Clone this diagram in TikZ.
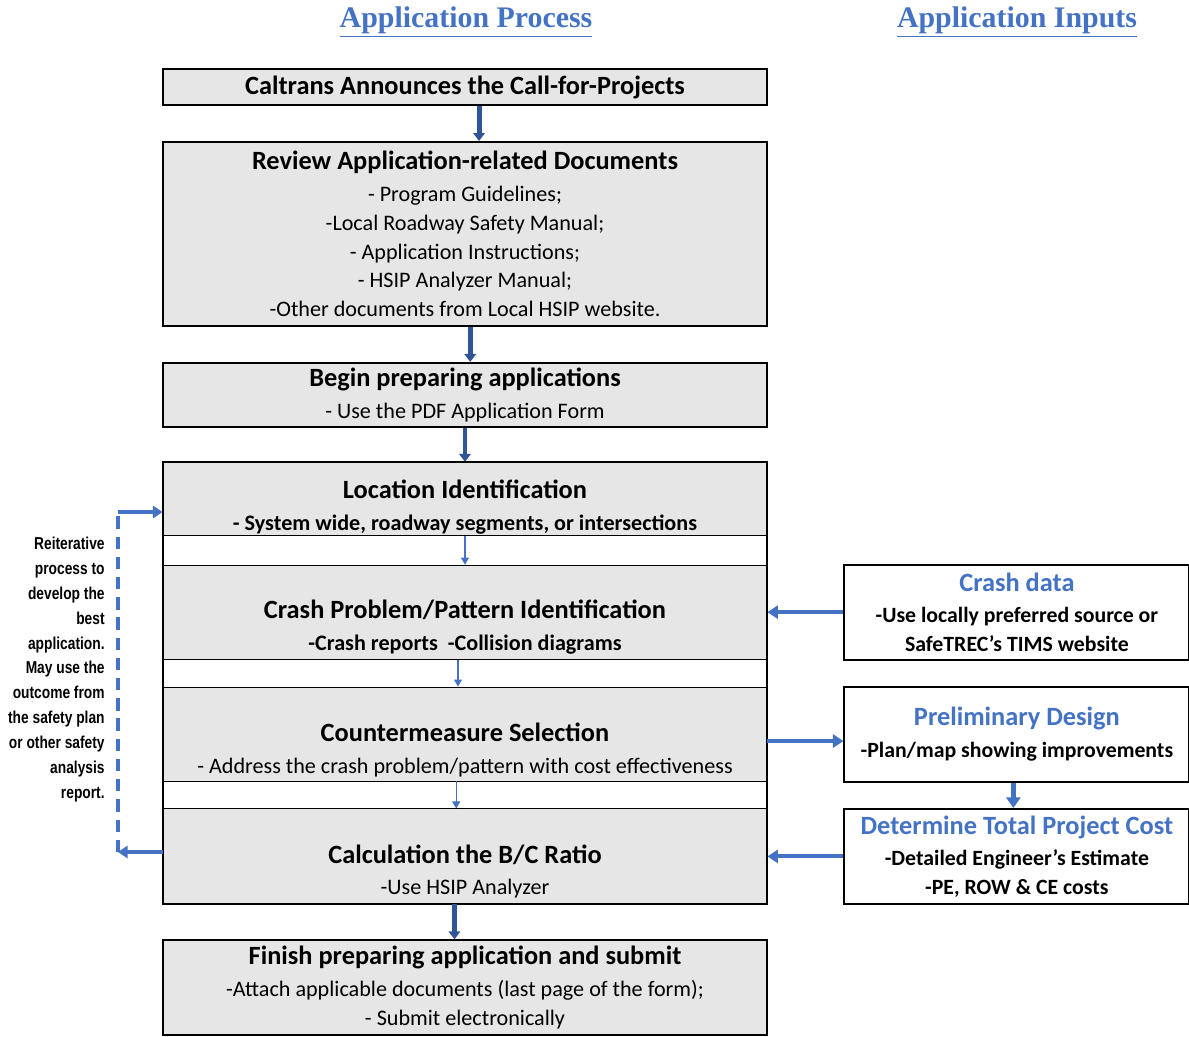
\documentclass[tikz,border=0pt]{standalone}
\usepackage{fontspec}
\setmainfont{Carlito}
\newfontfamily\headfont{Liberation Serif}
\newfontfamily\narrowfont[FakeStretch=0.8]{Liberation Sans}
\usepackage{xcolor}
\usetikzlibrary{arrows.meta}
\usetikzlibrary{positioning}

\definecolor{boxgray}{HTML}{E7E6E6}
\definecolor{linkblue}{HTML}{4472C4}
\definecolor{deepblue}{HTML}{2F5597}

\newcommand{\titlefont}{\bfseries\fontsize{15}{16.4}\selectfont}
\newcommand{\boxtitle}[1]{{\titlefont #1}\\[1.7pt]}
\newcommand{\intitle}[1]{{\color{linkblue}\bfseries\fontsize{15}{16.4}\selectfont #1}\\[1.5pt]}

\begin{document}
\begin{tikzpicture}[>={Triangle[length=4.5pt,width=6.5pt]}, node distance=0.72cm, semithick]
	\tikzstyle{procbox}=[draw, fill=boxgray, line width=1.1pt, minimum width=12.08cm, align=center, inner xsep=2pt, inner ysep=0pt, font=\fontsize{12.6}{16.4}\selectfont]
	\tikzstyle{part}=[procbox, line width=0.5pt]
	\tikzstyle{inbox}=[draw, fill=white, line width=1.1pt, minimum width=6.9cm, minimum height=1.9cm, align=center, inner sep=0pt, font=\bfseries\fontsize{12.4}{16.4}\selectfont]
	\tikzstyle{bigflow}=[->, draw=deepblue, line width=2.8pt]
	\tikzstyle{smallflow}=[->, >={Triangle[length=4pt,width=4.5pt]}, draw=linkblue, line width=0.6pt]
	\tikzstyle{sideflow}=[->, >={Triangle[length=6pt,width=7.5pt]}, draw=linkblue, line width=2.2pt]
	\tikzstyle{loopflow}=[->, >={Triangle[length=5.5pt,width=7pt]}, draw=linkblue, line width=1.8pt]
	\tikzstyle{heading}=[text=linkblue, font=\headfont\bfseries\fontsize{17}{20}\selectfont]

	\useasboundingbox (0,0) rectangle (23.78,-20.72);

	% headings
	\node[heading] (hproc) at (9.32,-0.44) {\underline{Application Process}};
	\node[heading] (hin) at (20.34,-0.44) {\underline{Application Inputs}};

	% main column
	\node[procbox, minimum height=0.72cm, font=\titlefont] (call) at (9.3,-1.74) {Caltrans Announces the Call-for-Projects};
	\node[procbox, minimum height=3.68cm] (review) [below=0.70cm of call] {\boxtitle{Review Application-related Documents}
		- Program Guidelines;\\
		-Local Roadway Safety Manual;\\
		- Application Instructions;\\
		- HSIP Analyzer Manual;\\
		-Other documents from Local HSIP website.};
	\node[procbox, minimum height=1.28cm] (begin) [below=0.70cm of review] {\boxtitle{Begin preparing applications}
		- Use the PDF Application Form};

	% reiterative block
	\node[part, minimum height=1.46cm] (loc) [below=0.68cm of begin] {\boxtitle{\rule{0pt}{20pt}Location Identification}
		\bfseries - System wide, roadway segments, or intersections};
	\node[part, minimum height=1.88cm] (crash) [below=0.58cm of loc] {\mbox{}\\[11.4pt] \boxtitle{Crash Problem/Pattern Identification}
		\bfseries -Crash reports\ \ -Collision diagrams};
	\node[part, minimum height=1.88cm] (counter) [below=0.54cm of crash] {\mbox{}\\[12pt] \boxtitle{Countermeasure Selection}
		- Address the crash problem/pattern with cost effectiveness};
	\node[part, minimum height=1.9cm] (calc) [below=0.54cm of counter] {\mbox{}\\[11.4pt] \boxtitle{Calculation the B/C Ratio}
		-Use HSIP Analyzer};
	\draw[line width=1.1pt] (loc.north west) rectangle (calc.south east);

	\node[procbox, minimum height=1.9cm] (finish) [below=0.70cm of calc] {\boxtitle{Finish preparing application and submit}
		-Attach applicable documents (last page of the form);\\
		- Submit electronically};

	% inputs
	\node[inbox] (cdata) [right=1.52cm of crash] {\intitle{Crash data}
		-Use locally preferred source or\\
		SafeTREC's TIMS website};
	\node[inbox] (prelim) [right=1.52cm of counter] {\intitle{Preliminary Design}
		-Plan/map showing improvements};
	\node[inbox] (cost) [right=1.52cm of calc] {\intitle{Determine Total Project Cost}
		-Detailed Engineer's Estimate\\
		-PE, ROW \& CE costs};

	% note on the left
	\node[anchor=east, align=right, font=\narrowfont\bfseries\fontsize{9.8}{14.2}\selectfont] (note) at (2.22,-13.39) {Reiterative\\ process to\\ develop the\\ best\\ application.\\ May use the\\ outcome from\\ the safety plan\\ or other safety\\ analysis\\ report.};
	\coordinate (fbtop) at (2.36,-10.24);
	\coordinate (fbbot) at (2.36,-17.04);

	% connectors
	\draw[bigflow] ([xshift=8pt]call.south) -- ([xshift=8pt]review.north);
	\draw[bigflow] ([xshift=3pt]review.south) -- ([xshift=3pt]begin.north);
	\draw[bigflow] (begin.south) -- (loc.north);
	\draw[smallflow] (loc.south) -- (crash.north);
	\draw[smallflow] ([xshift=-4pt]crash.south) -- ([xshift=-4pt]counter.north);
	\draw[smallflow] ([xshift=-5pt]counter.south) -- ([xshift=-5pt]calc.north);
	\draw[bigflow] ([xshift=-6pt]calc.south) -- ([xshift=-6pt]finish.north);

	\draw[sideflow] (cdata.west) -- (crash.east);
	\draw[sideflow] ([yshift=-4pt]counter.east) -- ([yshift=-4pt]prelim.west);
	\draw[sideflow, line width=2.6pt, >={Triangle[length=6pt,width=8pt]}] ([xshift=-2pt]prelim.south) -- ([xshift=-2pt]cost.north);
	\draw[sideflow] (cost.west) -- (calc.east);

	\draw[loopflow] (calc.west |- fbbot) -- (fbbot);
	\draw[draw=linkblue, line width=1.8pt, dash pattern=on 7pt off 4.5pt] (fbbot) -- (fbtop);
	\draw[loopflow] (fbtop) -- (loc.west |- fbtop);
\end{tikzpicture}
\end{document}
